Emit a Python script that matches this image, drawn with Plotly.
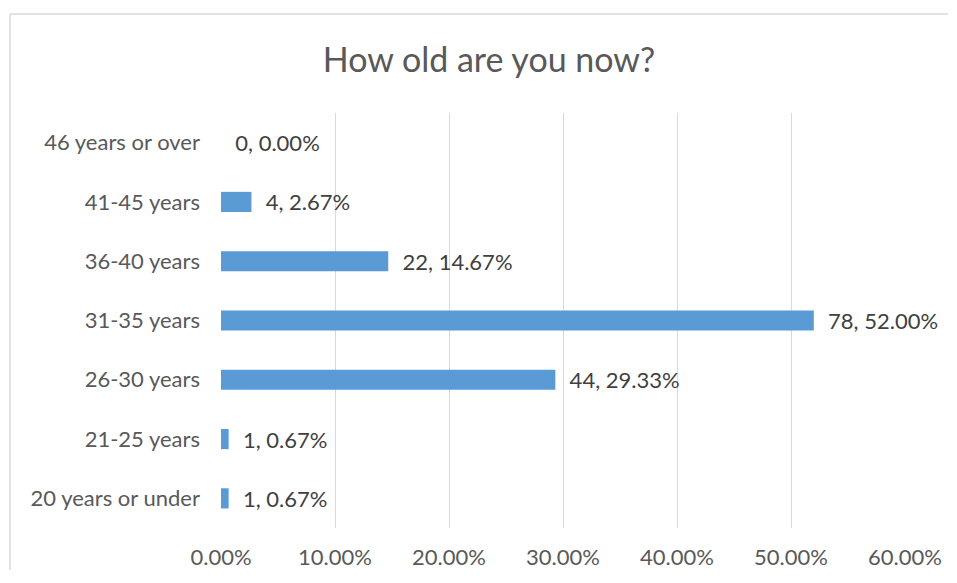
import plotly.graph_objects as go

categories = ["20 years or under", "21-25 years", "26-30 years", "31-35 years",
              "36-40 years", "41-45 years", "46 years or over"]
counts = [1, 1, 44, 78, 22, 4, 0]
percents = [0.0067, 0.0067, 0.2933, 0.5200, 0.1467, 0.0267, 0.0000]
x_ticks = [0, 0.1, 0.2, 0.3, 0.4, 0.5, 0.6]

labels = ["  {}, {:.2%}".format(c, p) for c, p in zip(counts, percents)]

FONT = "Lato, Calibri, Carlito, sans-serif"
TXT = "#595959"
W, H = 940, 562

fig = go.Figure(go.Bar(
    y=categories, x=percents, orientation="h",
    marker=dict(color="#5B9BD5", line=dict(width=0)),
    text=labels, textposition="outside", cliponaxis=False, constraintext="none",
    textfont=dict(family=FONT, size=22, color="#404040"),
))

fig.update_layout(
    width=W, height=H,
    margin=dict(l=213, r=W - 897, t=105, b=H - 520, autoexpand=False),
    paper_bgcolor="white", plot_bgcolor="white",
    title=dict(text="How old are you now?", x=481 / W, xref="container", xanchor="center",
               y=1 - 52 / H, yref="container", yanchor="middle",
               font=dict(family=FONT, size=34, color=TXT)),
    bargap=0.66,
    showlegend=False,
    xaxis=dict(range=[0, 0.6], tickvals=x_ticks, tickformat=".2%", automargin=False,
               showgrid=True, gridcolor="#D9D9D9", gridwidth=1.3,
               zeroline=False, showline=False, ticks="",
               ticklabelstandoff=14,
               tickfont=dict(family=FONT, size=22, color=TXT)),
    yaxis=dict(showgrid=False, zeroline=False, showline=False, ticks="", automargin=False,
               ticklabelstandoff=20,
               tickfont=dict(family=FONT, size=22, color=TXT)),
    shapes=[dict(type="line", xref="paper", yref="paper",
                 x0=-0.3085, x1=-0.3085, y0=-2, y1=1.2386,
                 line=dict(color="#D9D9D9", width=1.5), layer="below"),
            dict(type="line", xref="paper", yref="paper",
                 x0=-0.3085, x1=2, y0=1.2386, y1=1.2386,
                 line=dict(color="#D9D9D9", width=1.5), layer="below")],
)

fig.write_html("out.html")
